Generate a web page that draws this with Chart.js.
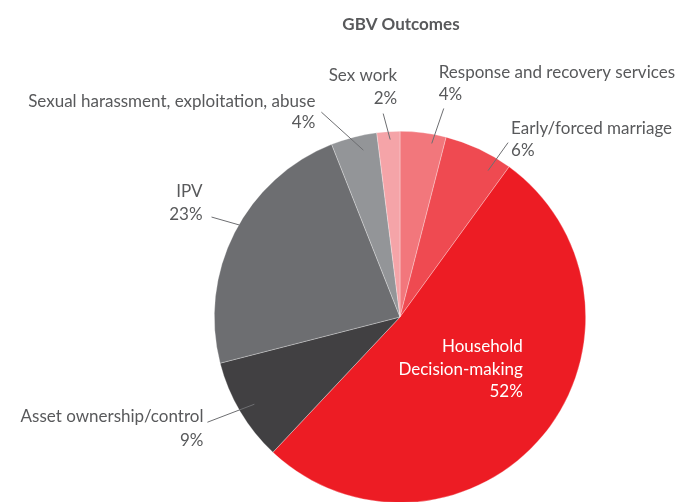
<!DOCTYPE html>
<html>
<head>
<meta charset="utf-8">
<script src="https://cdn.jsdelivr.net/npm/chart.js@4.4.0/dist/chart.umd.min.js"></script>
<style>
  html, body { margin: 0; padding: 0; background: #fff; overflow: hidden; }
  #wrap { position: relative; width: 685px; height: 520px; }
</style>
</head>
<body>
<div id="wrap"><canvas id="gbv"></canvas></div>
<script>
// 数据
const categories = [
    'Response and recovery services',
    'Early/forced marriage',
    'Household Decision-making',
    'Asset ownership/control',
    'IPV',
    'Sexual harassment, exploitation, abuse',
    'Sex work'
];
const shares = [4, 6, 52, 9, 23, 4, 2];
const sliceColors = ['#f2777c', '#ef4a51', '#ed1c24', '#414042', '#6d6e71', '#939598', '#f5a4a8'];

const textColor = '#58595b';
const labelFont = '17px Lato, "Open Sans", sans-serif';

// 标签布局: 扇区内锚点(角度比例, 半径比例), 引线偏移, 文字偏移
const labelLayout = [
    { frac: 0.72, rf: 0.95, line: [12, -35], text: [-5, -36, 22], align: 'left', lines: ['Response and recovery services'], maxW: 245 },
    { frac: 0.77, rf: 0.92, line: [20, -28], text: [3, -14, 22], align: 'left', lines: ['Early/forced marriage'], maxW: 168 },
    { frac: 0.413, rf: 0.72, line: null, text: [0, -23, 22.5], align: 'right', lines: ['Household', 'Decision-making'], color: '#fff' },
    { frac: 0.49, rf: 0.914, line: [-47, 18], text: [-4, -6, 24], align: 'right', lines: ['Asset ownership/control'] },
    { frac: 0.534, rf: 0.996, line: [-28, -8], text: [-9, -26, 23], align: 'right', lines: ['IPV'] },
    { frac: 0.64, rf: 0.92, line: [-42, -38], text: [-6, -11, 21], align: 'right', lines: ['Sexual harassment, exploitation, abuse'] },
    { frac: 0.56, rf: 0.957, line: [-7, -26], text: [14, -38, 23], align: 'right', lines: ['Sex work'] }
];

const calloutPlugin = {
    id: 'callouts',
    afterDatasetsDraw(chart) {
        const ctx = chart.ctx;
        const arcs = chart.getDatasetMeta(0).data;
        ctx.save();
        ctx.textBaseline = 'middle';

        // 标题
        ctx.fillStyle = textColor;
        ctx.font = 'bold 17px Lato, "Open Sans", sans-serif';
        ctx.textAlign = 'center';
        ctx.fillText('GBV Outcomes', 401, 25);

        arcs.forEach((arc, i) => {
            const cfg = labelLayout[i];
            const p = arc.getProps(['x', 'y', 'startAngle', 'endAngle', 'outerRadius'], true);
            const a = p.startAngle + (p.endAngle - p.startAngle) * cfg.frac;
            const ax = p.x + Math.cos(a) * p.outerRadius * cfg.rf;
            const ay = p.y + Math.sin(a) * p.outerRadius * cfg.rf;
            let ex = ax, ey = ay;
            if (cfg.line) {
                ex = ax + cfg.line[0];
                ey = ay + cfg.line[1];
                ctx.strokeStyle = '#6d6e71';
                ctx.lineWidth = 1;
                ctx.beginPath();
                ctx.moveTo(ax, ay);
                ctx.lineTo(ex, ey);
                ctx.stroke();
            }
            const rows = cfg.lines.concat([shares[i] + '%']);
            ctx.font = labelFont;
            ctx.fillStyle = cfg.color || textColor;
            ctx.textAlign = cfg.align;
            rows.forEach((t, k) => {
                const tx = ex + cfg.text[0];
                const ty = ey + cfg.text[1] + k * cfg.text[2];
                if (cfg.maxW) ctx.fillText(t, tx, ty, cfg.maxW);
                else ctx.fillText(t, tx, ty);
            });
        });
        ctx.restore();
    }
};

new Chart(document.getElementById('gbv'), {
    type: 'pie',
    data: {
        labels: categories,
        datasets: [{
            data: shares,
            backgroundColor: sliceColors,
            borderColor: 'rgba(255,255,255,0.5)',
            borderWidth: 0.6
        }]
    },
    options: {
        responsive: true,
        maintainAspectRatio: false,
        animation: false,
        layout: { padding: { left: 214, right: 99, top: 131, bottom: 17 } },
        plugins: {
            legend: { display: false },
            title: { display: false },
            tooltip: { enabled: false }
        }
    },
    plugins: [calloutPlugin]
});
</script>
</body>
</html>
